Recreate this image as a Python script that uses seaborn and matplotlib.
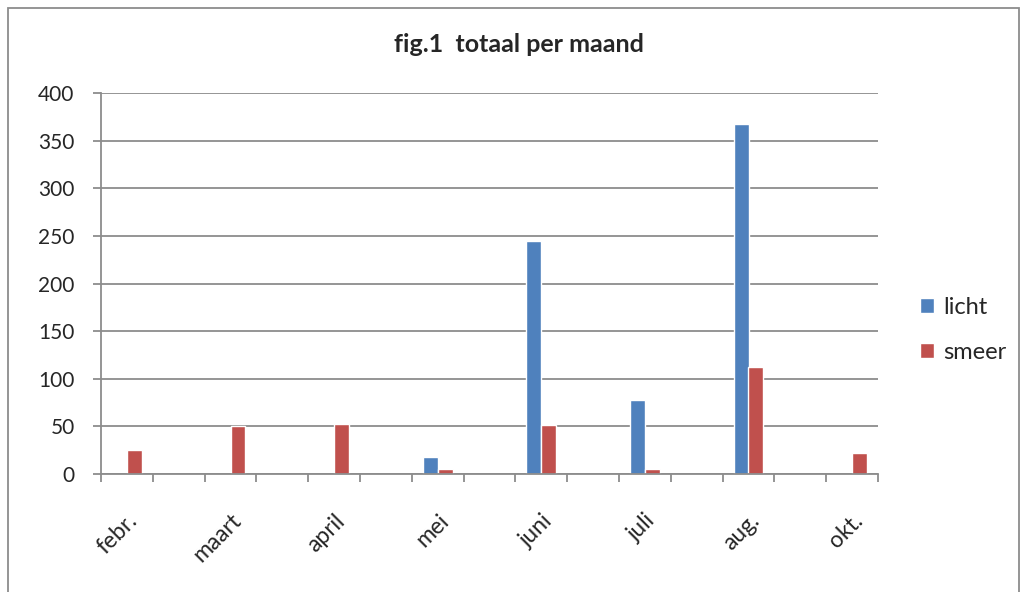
import numpy as np
import pandas as pd
import matplotlib
matplotlib.use("Agg")
import matplotlib.pyplot as plt
import seaborn as sns
from matplotlib.patches import Rectangle

# data
months = ["febr.", "maart", "april", "mei", "juni", "juli", "aug.", "okt."]
licht = [np.nan, np.nan, np.nan, 18, 245, 78, 367, np.nan]
smeer = [25, 50, 53, 5, 51, 5, 112, 22]
series = ["licht", "smeer"]
colors = ["#4F81BD", "#C0504D"]
yticks = [0, 50, 100, 150, 200, 250, 300, 350, 400]

# the chart has an empty category between each month
order = []
for i, m in enumerate(months):
    order.append(m)
    if i < len(months) - 1:
        order.append("leeg%d" % i)

df = pd.DataFrame({"maand": months, "licht": licht, "smeer": smeer})
df = df.melt(id_vars="maand", var_name="soort", value_name="aantal").dropna()

sns.set_style("white")
plt.rcParams['font.family'] = ['Lato', 'DejaVu Sans']

fig = plt.figure(figsize=(10.24, 5.92), dpi=100)
ax = fig.add_axes([101/1024, 1-474/592, 777/1024, 381/592])

sns.barplot(data=df, x="maand", y="aantal", hue="soort", order=order,
            hue_order=series, palette=colors, saturation=1, width=0.572,
            ax=ax, legend=True)

ax.set_ylim(0, 400)
ax.set_xlim(-0.5, len(order) - 0.5)
ax.set_yticks(yticks)
ax.set_yticklabels([str(v) for v in yticks], fontsize=15)
ax.yaxis.grid(True, color="#8c8c8c", linewidth=1.3)
ax.set_axisbelow(True)
ax.tick_params(axis="y", length=6, width=1.3, color="#8c8c8c", pad=13, left=True)

# tick marks between categories, labels on month slots
ax.set_xticks(np.arange(-0.5, len(order), 1))
ax.set_xticklabels([])
ax.tick_params(axis="x", which="major", length=6, width=1.3, color="#8c8c8c", bottom=True)
ax.set_xticks(np.arange(0, len(order), 2), minor=True)
ax.set_xticklabels(months, minor=True, rotation=45, ha="right",
                   rotation_mode="anchor", fontsize=16.5)
ax.tick_params(axis="x", which="minor", length=0, pad=26)

for s in ["top", "right"]:
    ax.spines[s].set_visible(False)
for s in ["left", "bottom"]:
    ax.spines[s].set_color("#8c8c8c")
    ax.spines[s].set_linewidth(1.3)

ax.set_xlabel("")
ax.set_ylabel("")

leg = ax.legend(loc="center left", bbox_to_anchor=(920/1024, 1-330/592),
                bbox_transform=fig.transFigure, frameon=False, fontsize=17,
                handlelength=0.6, handleheight=0.6, handletextpad=0.4,
                labelspacing=1.0, borderpad=0, borderaxespad=0)

fig.text(0.5 + 7/1024, 1-44/592, "fig.1  totaal per maand", ha="center",
         va="center", fontsize=18, fontweight="bold")

# chart border
fig.add_artist(Rectangle((8/1024, -0.05), 1011/1024, 1.05 - 8/592,
                         transform=fig.transFigure, fill=False,
                         edgecolor="#8c8c8c", linewidth=1.3))

fig.savefig("out.png", dpi=100)
